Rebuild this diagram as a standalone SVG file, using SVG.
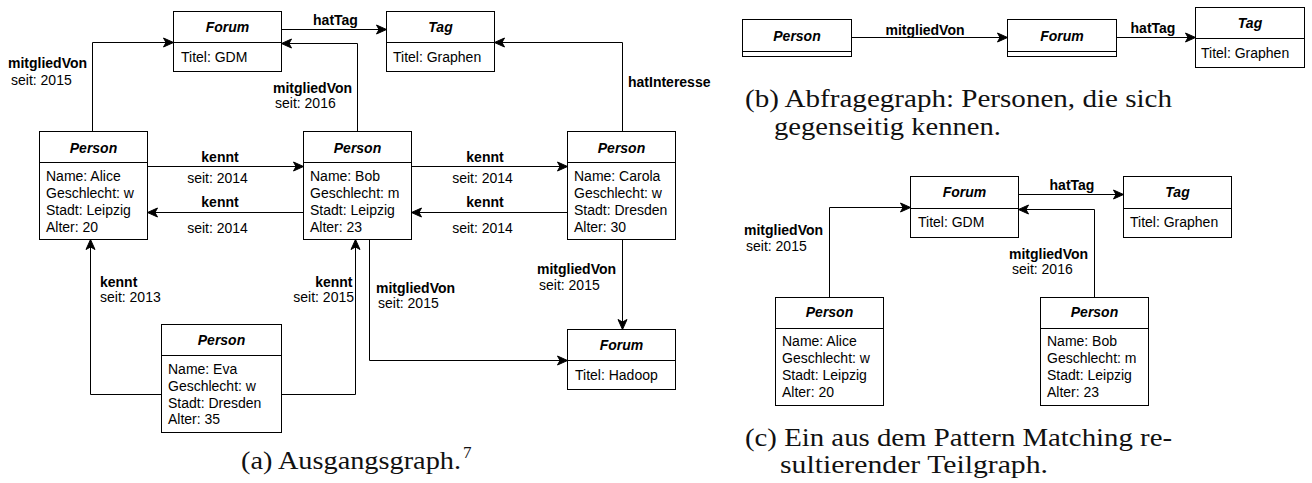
<svg xmlns="http://www.w3.org/2000/svg" width="1312" height="483" viewBox="0 0 1312 483">
<defs>
<marker id="arr" markerUnits="userSpaceOnUse" markerWidth="12" markerHeight="12" viewBox="-1 -6 12 12" refX="10" refY="0" orient="auto">
<path d="M0,-4.5 L10,0 L0,4.5 L2.5,0 Z" fill="#000" stroke="#000" stroke-width="1"/>
</marker>
</defs>
<style>
.box{fill:#fff;stroke:#000;stroke-width:1}
.div{stroke:#000;stroke-width:1}
.hd{font-family:"Liberation Sans",Arial,sans-serif;font-size:14px;font-weight:bold;font-style:italic;text-anchor:middle;fill:#000}
.tx{font-family:"Liberation Sans",Arial,sans-serif;font-size:14px;fill:#000}
.lb{font-family:"Liberation Sans",Arial,sans-serif;font-size:14px;font-weight:bold;fill:#000}
.ln{fill:none;stroke:#000;stroke-width:1;marker-end:url(#arr)}
.mid{text-anchor:middle}
.end{text-anchor:end}
.cap{font-family:"Liberation Serif","Times New Roman",serif;font-size:25px;fill:#111}
</style>

<g id="connectors">
<path class="ln" d="M92.5,131.5 V42.5 H173.5"/>
<path class="ln" d="M281.5,29.5 H386.5"/>
<path class="ln" d="M357.5,131.5 V43.5 H281.5"/>
<path class="ln" d="M622.5,131.5 V42.5 H494.5"/>
<path class="ln" d="M147.5,166.5 H303.5"/>
<path class="ln" d="M303.5,212.5 H147.5"/>
<path class="ln" d="M411.5,166.5 H567.5"/>
<path class="ln" d="M567.5,212.5 H411.5"/>
<path class="ln" d="M161.5,394.5 H90.5 V239.5"/>
<path class="ln" d="M281.5,394.5 H355.5 V239.5"/>
<path class="ln" d="M369.5,239.5 V360.5 H567.5"/>
<path class="ln" d="M622.5,239.5 V329.5"/>
<path class="ln" d="M851.5,37.5 H1007.5"/>
<path class="ln" d="M1116.5,37.5 H1195.5"/>
<path class="ln" d="M829.5,297.5 V207.5 H910.5"/>
<path class="ln" d="M1018.5,194.5 H1123.5"/>
<path class="ln" d="M1094.5,297.5 V209.5 H1018.5"/>

<text class="lb" x="8" y="68">mitgliedVon</text>
<text class="tx" x="11" y="85">seit: 2015</text>
<text class="lb mid" x="335.5" y="25">hatTag</text>
<text class="lb" x="273" y="93">mitgliedVon</text>
<text class="tx" x="275" y="108">seit: 2016</text>
<text class="lb" x="628" y="87">hatInteresse</text>
<text class="lb mid" x="220" y="162">kennt</text>
<text class="tx mid" x="217.5" y="183">seit: 2014</text>
<text class="lb mid" x="220" y="207">kennt</text>
<text class="tx mid" x="217.5" y="233">seit: 2014</text>
<text class="lb mid" x="485" y="162">kennt</text>
<text class="tx mid" x="482.5" y="183">seit: 2014</text>
<text class="lb mid" x="485" y="207">kennt</text>
<text class="tx mid" x="482.5" y="233">seit: 2014</text>
<text class="lb" x="100" y="287">kennt</text>
<text class="tx" x="100" y="302">seit: 2013</text>
<text class="lb end" x="352.5" y="287">kennt</text>
<text class="tx end" x="354" y="302">seit: 2015</text>
<text class="lb" x="376" y="293">mitgliedVon</text>
<text class="tx" x="378" y="308">seit: 2015</text>
<text class="lb" x="537" y="274">mitgliedVon</text>
<text class="tx" x="539" y="290">seit: 2015</text>
<text class="lb mid" x="925" y="35">mitgliedVon</text>
<text class="lb mid" x="1153" y="33">hatTag</text>
<text class="lb" x="744" y="235">mitgliedVon</text>
<text class="tx" x="746" y="251">seit: 2015</text>
<text class="lb mid" x="1072" y="190">hatTag</text>
<text class="lb" x="1009" y="259">mitgliedVon</text>
<text class="tx" x="1012" y="274">seit: 2016</text>
</g>

<!-- (a) -->
<g id="a-forum-gdm">
<rect class="box" x="173.5" y="11.5" width="108" height="60"/>
<line class="div" x1="173.5" y1="42.5" x2="281.5" y2="42.5"/>
<text class="hd" x="227.5" y="32">Forum</text>
<text class="tx" x="181" y="62">Titel: GDM</text>
</g>
<g id="a-tag">
<rect class="box" x="386.5" y="11.5" width="108" height="60"/>
<line class="div" x1="386.5" y1="42.5" x2="494.5" y2="42.5"/>
<text class="hd" x="440.5" y="32">Tag</text>
<text class="tx" x="393" y="62">Titel: Graphen</text>
</g>
<g id="a-alice">
<rect class="box" x="39.5" y="131.5" width="108" height="108"/>
<line class="div" x1="39.5" y1="162.5" x2="147.5" y2="162.5"/>
<text class="hd" x="93.5" y="153">Person</text>
<text class="tx" x="46" y="181">Name: Alice</text>
<text class="tx" x="46" y="198">Geschlecht: w</text>
<text class="tx" x="46" y="215">Stadt: Leipzig</text>
<text class="tx" x="46" y="232">Alter: 20</text>
</g>
<g id="a-bob">
<rect class="box" x="303.5" y="131.5" width="108" height="108"/>
<line class="div" x1="303.5" y1="162.5" x2="411.5" y2="162.5"/>
<text class="hd" x="357.5" y="153">Person</text>
<text class="tx" x="310" y="181">Name: Bob</text>
<text class="tx" x="310" y="198">Geschlecht: m</text>
<text class="tx" x="310" y="215">Stadt: Leipzig</text>
<text class="tx" x="310" y="232">Alter: 23</text>
</g>
<g id="a-carola">
<rect class="box" x="567.5" y="131.5" width="108" height="108"/>
<line class="div" x1="567.5" y1="162.5" x2="675.5" y2="162.5"/>
<text class="hd" x="621.5" y="153">Person</text>
<text class="tx" x="574" y="181">Name: Carola</text>
<text class="tx" x="574" y="198">Geschlecht: w</text>
<text class="tx" x="574" y="215">Stadt: Dresden</text>
<text class="tx" x="574" y="232">Alter: 30</text>
</g>
<g id="a-eva">
<rect class="box" x="161.5" y="324.5" width="120" height="108"/>
<line class="div" x1="161.5" y1="355.5" x2="281.5" y2="355.5"/>
<text class="hd" x="221.5" y="345">Person</text>
<text class="tx" x="168" y="374">Name: Eva</text>
<text class="tx" x="168" y="391">Geschlecht: w</text>
<text class="tx" x="168" y="408">Stadt: Dresden</text>
<text class="tx" x="168" y="424">Alter: 35</text>
</g>
<g id="a-forum-hadoop">
<rect class="box" x="567.5" y="329.5" width="108" height="60"/>
<line class="div" x1="567.5" y1="360.5" x2="675.5" y2="360.5"/>
<text class="hd" x="621.5" y="350">Forum</text>
<text class="tx" x="575" y="380">Titel: Hadoop</text>
</g>

<!-- (b) -->
<g id="b-person">
<rect class="box" x="742.5" y="19.5" width="109" height="37"/>
<line class="div" x1="742.5" y1="51.5" x2="851.5" y2="51.5"/>
<text class="hd" x="797" y="41">Person</text>
</g>
<g id="b-forum">
<rect class="box" x="1007.5" y="19.5" width="109" height="37"/>
<line class="div" x1="1007.5" y1="51.5" x2="1116.5" y2="51.5"/>
<text class="hd" x="1062" y="41">Forum</text>
</g>
<g id="b-tag">
<rect class="box" x="1195.5" y="7.5" width="109" height="60"/>
<line class="div" x1="1195.5" y1="38.5" x2="1304.5" y2="38.5"/>
<text class="hd" x="1250" y="28">Tag</text>
<text class="tx" x="1201" y="58">Titel: Graphen</text>
</g>

<!-- (c) -->
<g id="c-forum">
<rect class="box" x="910.5" y="176.5" width="108" height="61"/>
<line class="div" x1="910.5" y1="208.5" x2="1018.5" y2="208.5"/>
<text class="hd" x="964.5" y="197">Forum</text>
<text class="tx" x="918" y="227">Titel: GDM</text>
</g>
<g id="c-tag">
<rect class="box" x="1123.5" y="176.5" width="108" height="61"/>
<line class="div" x1="1123.5" y1="208.5" x2="1231.5" y2="208.5"/>
<text class="hd" x="1177.5" y="197">Tag</text>
<text class="tx" x="1130" y="227">Titel: Graphen</text>
</g>
<g id="c-alice">
<rect class="box" x="775.5" y="297.5" width="108" height="108"/>
<line class="div" x1="775.5" y1="328.5" x2="883.5" y2="328.5"/>
<text class="hd" x="829.5" y="317">Person</text>
<text class="tx" x="782" y="346">Name: Alice</text>
<text class="tx" x="782" y="363">Geschlecht: w</text>
<text class="tx" x="782" y="380">Stadt: Leipzig</text>
<text class="tx" x="782" y="397">Alter: 20</text>
</g>
<g id="c-bob">
<rect class="box" x="1040.5" y="297.5" width="108" height="108"/>
<line class="div" x1="1040.5" y1="328.5" x2="1148.5" y2="328.5"/>
<text class="hd" x="1094.5" y="317">Person</text>
<text class="tx" x="1047" y="346">Name: Bob</text>
<text class="tx" x="1047" y="363">Geschlecht: m</text>
<text class="tx" x="1047" y="380">Stadt: Leipzig</text>
<text class="tx" x="1047" y="397">Alter: 23</text>
</g>

<!-- captions -->
<text class="cap" x="241" y="469" textLength="220" lengthAdjust="spacingAndGlyphs">(a) Ausgangsgraph.</text>
<text class="cap" x="463" y="458" style="font-size:17px">7</text>
<text class="cap" x="745" y="107" textLength="427" lengthAdjust="spacingAndGlyphs">(b) Abfragegraph: Personen, die sich</text>
<text class="cap" x="774" y="135" textLength="227" lengthAdjust="spacingAndGlyphs">gegenseitig kennen.</text>
<text class="cap" x="745" y="446" textLength="427" lengthAdjust="spacingAndGlyphs">(c) Ein aus dem Pattern Matching re-</text>
<text class="cap" x="780" y="473" textLength="268" lengthAdjust="spacingAndGlyphs">sultierender Teilgraph.</text>
</svg>
